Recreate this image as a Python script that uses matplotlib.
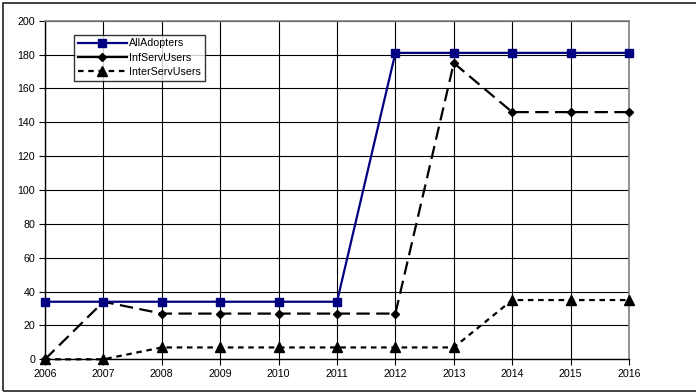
import matplotlib
matplotlib.use("Agg")
import matplotlib.pyplot as plt
from matplotlib.lines import Line2D
from matplotlib.patches import Rectangle

plt.rcParams["font.family"] = ["Liberation Sans", "DejaVu Sans"]

years = [2006, 2007, 2008, 2009, 2010, 2011, 2012, 2013, 2014, 2015, 2016]
all_adopters = [34, 34, 34, 34, 34, 34, 181, 181, 181, 181, 181]
inf_serv_users = [0, 34, 27, 27, 27, 27, 27, 175, 146, 146, 146]
inter_serv_users = [0, 0, 7, 7, 7, 7, 7, 7, 35, 35, 35]
y_ticks = [0, 20, 40, 60, 80, 100, 120, 140, 160, 180, 200]

LONG_DASH = (0, (6.0, 2.9))
SHORT_DASH = (0, (2.5, 2.1))

fig = plt.figure(figsize=(6.96, 3.92), dpi=100)
ax = fig.add_axes([45 / 696, 1 - 359.3 / 392, 584 / 696, 338.6 / 392])

ax.plot(years, all_adopters, color="#000080", lw=1.6, marker="s", ms=6.3,
        clip_on=False, zorder=4)
ax.plot(years, inf_serv_users, color="black", lw=1.6, ls=LONG_DASH,
        marker="D", ms=4.4, clip_on=False, zorder=3)
ax.plot(years, inter_serv_users, color="black", lw=1.6, ls=SHORT_DASH,
        marker="^", ms=7, clip_on=False, zorder=3)

ax.set_xlim(2006, 2016)
ax.set_ylim(0, 200)
ax.set_xticks(years)
ax.set_yticks(y_ticks)
ax.tick_params(labelsize=7.7, length=4, width=0.8, color="black", pad=3)
ax.grid(True, color="black", lw=0.8)
ax.set_axisbelow(True)
for side in ["top", "right"]:
    ax.spines[side].set_color("#808080")
    ax.spines[side].set_linewidth(1.2)
for side in ["left", "bottom"]:
    ax.spines[side].set_color("black")
    ax.spines[side].set_linewidth(1)

handles = [
    Line2D([], [], color="#000080", lw=1.6, marker="s", ms=6.3),
    Line2D([], [], color="black", lw=1.6, marker="D", ms=4.4),
    Line2D([], [], color="black", lw=1.6, ls=SHORT_DASH, marker="^", ms=7),
]
leg = ax.legend(handles, ["AllAdopters", "InfServUsers", "InterServUsers"],
                loc="upper left", bbox_to_anchor=(29 / 584, 1 - 14 / 338.6),
                fontsize=7.7, frameon=True, fancybox=False, borderpad=0.35,
                handlelength=4.6, handletextpad=0.2, labelspacing=0.4,
                borderaxespad=0)
leg.get_frame().set_edgecolor("black")
leg.get_frame().set_linewidth(1)

# outer chart frame
fig.patches.append(Rectangle((2.5 / 696, 1 / 392), 1.0, 388.5 / 392,
                             transform=fig.transFigure, fill=False,
                             edgecolor="#222222", lw=1.2))

fig.savefig("out.png", dpi=100)
